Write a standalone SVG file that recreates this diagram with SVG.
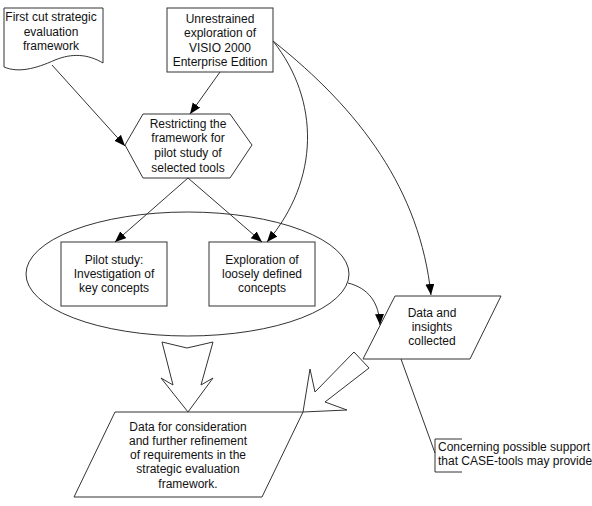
<svg xmlns="http://www.w3.org/2000/svg" width="592" height="506" viewBox="0 0 592 506">
<style>
.s{fill:#fff;stroke:#333;stroke-width:1}
.c{fill:none;stroke:#333;stroke-width:1}
.t{font-family:"Liberation Sans",Arial,sans-serif;font-size:12px;fill:#111;text-anchor:middle}
.l{font-family:"Liberation Sans",Arial,sans-serif;font-size:12px;fill:#111}
</style>
<defs>
<marker id="ah" markerUnits="userSpaceOnUse" markerWidth="12" markerHeight="10" refX="11" refY="4.5" orient="auto">
<path d="M0,0 L11,4.5 L0,9 z" fill="#000"/>
</marker>
</defs>
<g id="ellipse"><ellipse class="s" cx="187.5" cy="274" rx="161.5" ry="62"/></g>
<g id="doc">
<path class="s" d="M4,8 H103 V63 C88,54 72,53 55,60 C35,69 18,73 4,67 Z"/>
<text class="t" x="51" y="21">First cut strategic</text>
<text class="t" x="51" y="36">evaluation</text>
<text class="t" x="51" y="50">framework</text>
</g>
<g id="visio">
<rect class="s" x="167" y="8" width="106" height="64"/>
<text class="t" x="220" y="23">Unrestrained</text>
<text class="t" x="220" y="37">exploration of</text>
<text class="t" x="220" y="52">VISIO 2000</text>
<text class="t" x="220" y="66">Enterprise Edition</text>
</g>
<g id="restrict">
<polygon class="s" points="143,114 230,114 252,145 230,178 143,178 125,145"/>
<text class="t" x="188" y="128">Restricting the</text>
<text class="t" x="188" y="142">framework for</text>
<text class="t" x="188" y="157">pilot study of</text>
<text class="t" x="188" y="172">selected tools</text>
</g>
<g id="pilot">
<rect class="s" x="61" y="242" width="106" height="64"/>
<text class="t" x="114" y="264">Pilot study:</text>
<text class="t" x="114" y="278">Investigation of</text>
<text class="t" x="114" y="292">key concepts</text>
</g>
<g id="explore">
<rect class="s" x="209" y="242" width="106" height="64"/>
<text class="t" x="262" y="264">Exploration of</text>
<text class="t" x="262" y="278">loosely defined</text>
<text class="t" x="262" y="292">concepts</text>
</g>
<g id="insights">
<polygon class="s" points="395,296 501,296 470,359 363,359"/>
<text class="t" x="432" y="317">Data and</text>
<text class="t" x="432" y="331">insights</text>
<text class="t" x="432" y="345">collected</text>
</g>
<g id="result">
<polygon class="s" points="115,412 303,412 262,497 74,497"/>
<text class="t" x="188" y="431">Data for consideration</text>
<text class="t" x="188" y="445">and further refinement</text>
<text class="t" x="188" y="459">of requirements in the</text>
<text class="t" x="188" y="473">strategic evaluation</text>
<text class="t" x="188" y="488">framework.</text>
</g>
<g id="annotation">
<path class="c" d="M462,439 H435 V472 H462"/>
<text class="l" x="438" y="451">Concerning possible support</text>
<text class="l" x="438" y="465">that CASE-tools may provide</text>
</g>
<g id="connectors">
<path class="c" d="M52,65 L125,146" marker-end="url(#ah)"/>
<path class="c" d="M220,72 L190,114" marker-end="url(#ah)"/>
<path class="c" d="M188,178 L115,242" marker-end="url(#ah)"/>
<path class="c" d="M188,178 L262,242" marker-end="url(#ah)"/>
<path class="c" d="M273,41 C320,100 320,180 267,242" marker-end="url(#ah)"/>
<path class="c" d="M273,41 C360,110 420,190 431,295" marker-end="url(#ah)"/>
<path class="c" d="M348,283 C368,288 379,302 380,325" marker-end="url(#ah)"/>
<path class="c" d="M401,359 L435,453"/>
<polygon class="s" points="162,342 187,348 213,342 201,385 213,378 188,412 161,378 173,385"/>
<polygon class="s" points="303,412 310,369 315,392 354,352 369,368 325,402 347,410"/>
</g>
</svg>
